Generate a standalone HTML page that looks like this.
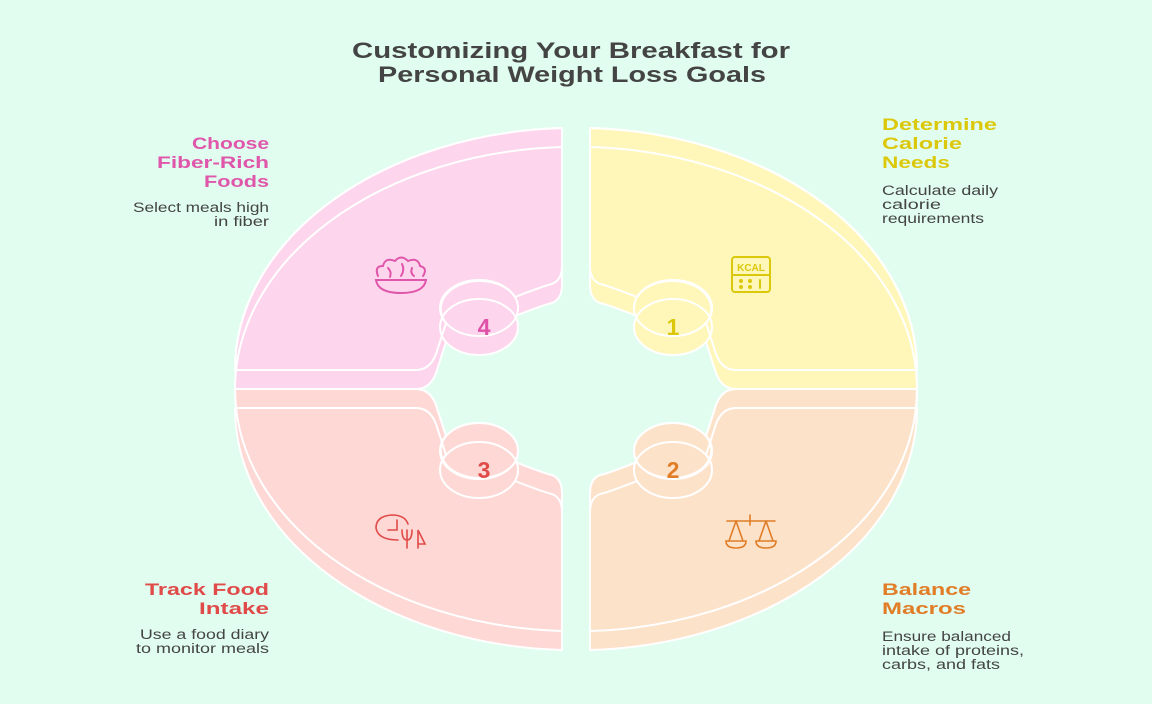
<!DOCTYPE html>
<html><head><meta charset="utf-8"><style>
html,body{margin:0;padding:0;background:#e1fdf0;}
svg{display:block;}
text{font-family:"Liberation Sans",sans-serif;}
</style></head><body>
<svg width="1152" height="704" viewBox="0 0 1152 704" xmlns="http://www.w3.org/2000/svg">
<rect width="1152" height="704" fill="#e1fdf0"/>
<defs>
<path id="q" d="M14,-242 A341,242 0 0 1 341,0 L160,0 Q146,0 140,-16 L130,-47 A39,28 0 1 0 61,-73 Q30,-85 24,-86 Q14,-90 14,-104 Z"/>
<ellipse id="e" cx="97" cy="-62" rx="39" ry="28"/>
</defs>
<g stroke="#fff" stroke-width="2">
<g fill="#fff7b9">
<g transform="translate(576,370)"><use href="#q"/><use href="#e"/></g>
<g transform="translate(576,389)"><use href="#q"/><use href="#e"/></g>
<g transform="translate(576,370)" fill="none"><use href="#q"/><use href="#e"/></g>
</g>
<g fill="#fdd5ec">
<g transform="translate(576,370) scale(-1,1)"><use href="#q"/><use href="#e"/></g>
<g transform="translate(576,389) scale(-1,1)"><use href="#q"/><use href="#e"/></g>
<g transform="translate(576,370) scale(-1,1)" fill="none"><use href="#q"/><use href="#e"/></g>
</g>
<g fill="#fde2ca">
<g transform="translate(576,389) scale(1,-1)"><use href="#q"/><use href="#e"/></g>
<g transform="translate(576,408) scale(1,-1)"><use href="#q"/><use href="#e"/></g>
<g transform="translate(576,389) scale(1,-1)" fill="none"><use href="#q"/><use href="#e"/></g>
</g>
<g fill="#fdd8d5">
<g transform="translate(576,389) scale(-1,-1)"><use href="#q"/><use href="#e"/></g>
<g transform="translate(576,408) scale(-1,-1)"><use href="#q"/><use href="#e"/></g>
<g transform="translate(576,389) scale(-1,-1)" fill="none"><use href="#q"/><use href="#e"/></g>
</g>
</g>
<g font-size="23" font-weight="bold" text-anchor="middle">
<text x="673" y="335" fill="#dcc80a">1</text>
<text x="673" y="478" fill="#e07d26">2</text>
<text x="484" y="478" fill="#e04a48">3</text>
<text x="484" y="335" fill="#e052a8">4</text>
</g>
<g fill="none" stroke-width="2" stroke-linecap="round">
<g stroke="#dcc80a"><rect x="732" y="257" width="38" height="35" rx="3"/><line x1="732" y1="275" x2="770" y2="275"/>
<text x="751" y="271" font-size="10" font-weight="bold" fill="#dcc80a" stroke="none" text-anchor="middle">KCAL</text>
<circle cx="741" cy="281" r="1"/><circle cx="741" cy="287" r="1"/><circle cx="750" cy="281" r="1"/><circle cx="750" cy="287" r="1"/><line x1="760" y1="280" x2="760" y2="288"/></g>
<g stroke="#df56aa"><path d="M376,280 L426,280 Q424,293 401,293 Q378,293 376,280Z"/>
<path d="M378,276 Q374,266 383,266 Q385,257 395,261 Q401,254 408,261 Q418,257 420,266 Q428,268 423,276"/><path d="M388,268 Q392,272 390,277 M402,264 Q405,270 401,276 M412,268 Q410,273 414,276"/></g>
<g stroke="#e04a48" stroke-width="1.6"><path d="M398,540 Q378,540 376,528 Q376,516 392,515 Q405,515 408,524"/><path d="M388,530 L397,530 L397,520"/><path d="M402,530 Q402,540 407,540 Q412,540 412,530 M407,530 L407,548"/><path d="M418,548 L418,530 L425,544 L418,544"/></g>
<g stroke="#e07d26" stroke-width="1.6"><line x1="727" y1="521" x2="775" y2="521"/><line x1="750" y1="515" x2="750" y2="525"/><path d="M736,521 L729,541 M736,521 L743,541 M766,521 L759,541 M766,521 L773,541"/><path d="M726,541 L746,541 Q746,548 736,548 Q726,548 726,541Z M756,541 L776,541 Q776,548 766,548 Q756,548 756,541Z"/></g>
</g>
<g fill="#444" font-size="22" font-weight="bold">
<text x="352" y="58" textLength="438" lengthAdjust="spacingAndGlyphs">Customizing Your Breakfast for</text>
<text x="378" y="82" textLength="388" lengthAdjust="spacingAndGlyphs">Personal Weight Loss Goals</text>
</g>
<g font-size="17" font-weight="bold">
<g fill="#dcc80a"><text x="882" y="130" textLength="115" lengthAdjust="spacingAndGlyphs">Determine</text><text x="882" y="149" textLength="80" lengthAdjust="spacingAndGlyphs">Calorie</text><text x="882" y="168" textLength="68" lengthAdjust="spacingAndGlyphs">Needs</text></g>
<g fill="#e07d26"><text x="882" y="595" textLength="89" lengthAdjust="spacingAndGlyphs">Balance</text><text x="882" y="614" textLength="84" lengthAdjust="spacingAndGlyphs">Macros</text></g>
<g fill="#df56aa"><text x="192" y="149" textLength="77" lengthAdjust="spacingAndGlyphs">Choose</text><text x="157" y="168" textLength="112" lengthAdjust="spacingAndGlyphs">Fiber-Rich</text><text x="204" y="187" textLength="65" lengthAdjust="spacingAndGlyphs">Foods</text></g>
<g fill="#e04a48"><text x="145" y="595" textLength="124" lengthAdjust="spacingAndGlyphs">Track Food</text><text x="199" y="614" textLength="70" lengthAdjust="spacingAndGlyphs">Intake</text></g>
</g>
<g font-size="13.5" fill="#444">
<text x="882" y="195" textLength="116" lengthAdjust="spacingAndGlyphs">Calculate daily</text><text x="882" y="209" textLength="59" lengthAdjust="spacingAndGlyphs">calorie</text><text x="882" y="223" textLength="102" lengthAdjust="spacingAndGlyphs">requirements</text>
<text x="133" y="212" textLength="136" lengthAdjust="spacingAndGlyphs">Select meals high</text><text x="214" y="226" textLength="55" lengthAdjust="spacingAndGlyphs">in fiber</text>
<text x="140" y="639" textLength="129" lengthAdjust="spacingAndGlyphs">Use a food diary</text><text x="136" y="653" textLength="133" lengthAdjust="spacingAndGlyphs">to monitor meals</text>
<text x="882" y="641" textLength="129" lengthAdjust="spacingAndGlyphs">Ensure balanced</text><text x="882" y="655" textLength="142" lengthAdjust="spacingAndGlyphs">intake of proteins,</text><text x="882" y="669" textLength="118" lengthAdjust="spacingAndGlyphs">carbs, and fats</text>
</g>
</svg>
</body></html>
